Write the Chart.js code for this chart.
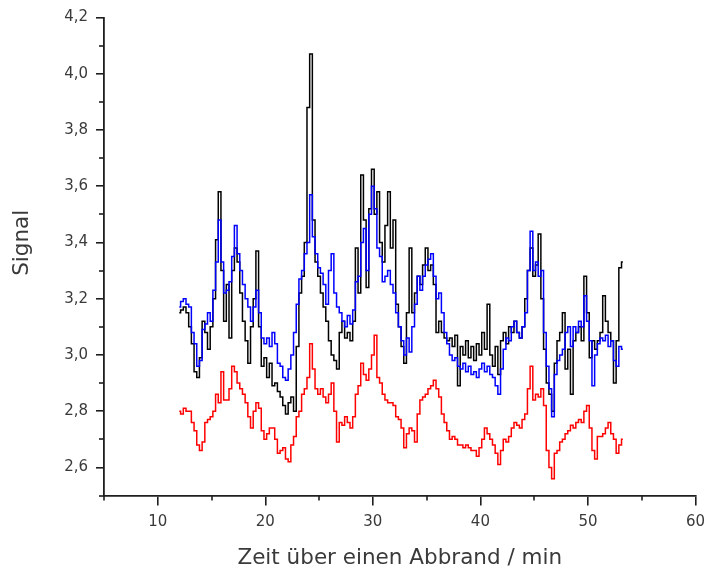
<!DOCTYPE html>
<html>
<head>
<meta charset="utf-8">
<script src="https://cdn.jsdelivr.net/npm/chart.js@4/dist/chart.umd.min.js"></script>
<style>
  html, body { margin: 0; padding: 0; background: #fff; }
  #wrap { width: 713px; height: 570px; }
</style>
</head>
<body>
<div id="wrap"><canvas id="chartCanvas" width="713" height="570"></canvas></div>
<script>
// Zeitachse (min), Abtastung 0,25 min
const zeit = [
  12.00, 12.25, 12.50, 12.75, 13.00, 13.25, 13.50, 13.75,
  14.00, 14.25, 14.50, 14.75, 15.00, 15.25, 15.50, 15.75,
  16.00, 16.25, 16.50, 16.75, 17.00, 17.25, 17.50, 17.75,
  18.00, 18.25, 18.50, 18.75, 19.00, 19.25, 19.50, 19.75,
  20.00, 20.25, 20.50, 20.75, 21.00, 21.25, 21.50, 21.75,
  22.00, 22.25, 22.50, 22.75, 23.00, 23.25, 23.50, 23.75,
  24.00, 24.25, 24.50, 24.75, 25.00, 25.25, 25.50, 25.75,
  26.00, 26.25, 26.50, 26.75, 27.00, 27.25, 27.50, 27.75,
  28.00, 28.25, 28.50, 28.75, 29.00, 29.25, 29.50, 29.75,
  30.00, 30.25, 30.50, 30.75, 31.00, 31.25, 31.50, 31.75,
  32.00, 32.25, 32.50, 32.75, 33.00, 33.25, 33.50, 33.75,
  34.00, 34.25, 34.50, 34.75, 35.00, 35.25, 35.50, 35.75,
  36.00, 36.25, 36.50, 36.75, 37.00, 37.25, 37.50, 37.75,
  38.00, 38.25, 38.50, 38.75, 39.00, 39.25, 39.50, 39.75,
  40.00, 40.25, 40.50, 40.75, 41.00, 41.25, 41.50, 41.75,
  42.00, 42.25, 42.50, 42.75, 43.00, 43.25, 43.50, 43.75,
  44.00, 44.25, 44.50, 44.75, 45.00, 45.25, 45.50, 45.75,
  46.00, 46.25, 46.50, 46.75, 47.00, 47.25, 47.50, 47.75,
  48.00, 48.25, 48.50, 48.75, 49.00, 49.25, 49.50, 49.75,
  50.00, 50.25, 50.50, 50.75, 51.00, 51.25, 51.50, 51.75,
  52.00, 52.25, 52.50, 52.75, 53.00, 53.25
];

const signalSchwarz = [
  3.15, 3.16, 3.17, 3.15, 3.10, 3.04, 2.94, 2.92,
  2.99, 3.12, 3.08, 3.02, 3.10, 3.20, 3.41, 3.58,
  3.30, 3.12, 3.25, 3.06, 3.30, 3.38, 3.33, 3.22,
  3.12, 3.05, 2.97, 3.10, 3.20, 3.37, 3.10, 2.96,
  2.99, 2.92, 2.97, 2.89, 2.90, 2.87, 2.85, 2.82,
  2.79, 2.83, 2.85, 2.80, 3.03, 3.22, 3.28, 3.40,
  3.88, 4.07, 3.48, 3.33, 3.28, 3.22, 3.17, 3.12,
  3.05, 3.00, 2.98, 2.95, 3.08, 3.12, 3.06, 3.08,
  3.05, 3.12, 3.38, 3.22, 3.64, 3.48, 3.24, 3.52,
  3.66, 3.50, 3.58, 3.40, 3.33, 3.46, 3.58, 3.38,
  3.48, 3.18, 3.10, 3.03, 2.97, 3.15, 3.38, 3.15,
  3.22, 3.28, 3.25, 3.32, 3.38, 3.30, 3.32, 3.25,
  3.08, 3.12, 3.08, 3.06, 3.05, 3.06, 3.03, 3.07,
  2.89, 3.03, 3.00, 3.05, 2.99, 3.03, 2.98, 3.04,
  3.00, 3.08, 3.02, 3.18, 3.00, 2.96, 3.03, 2.93,
  3.05, 3.08, 3.04, 3.10, 3.08, 3.12, 3.08, 3.06,
  3.10, 3.20, 3.30, 3.38, 3.28, 3.32, 3.43, 3.20,
  3.02, 2.90, 2.86, 2.80, 2.97, 3.05, 3.08, 3.15,
  2.95, 3.02, 2.86, 3.05, 3.08, 3.10, 3.05, 3.28,
  3.15, 2.99, 3.05, 3.02, 3.05, 3.08, 3.21, 3.12,
  3.08, 3.05, 2.90, 3.05, 3.31, 3.33
];

const signalBlau = [
  3.17, 3.19, 3.20, 3.18, 3.17, 3.08, 3.04, 2.96,
  2.98, 3.09, 3.11, 3.15, 3.12, 3.23, 3.33, 3.48,
  3.33, 3.22, 3.23, 3.26, 3.35, 3.46, 3.36, 3.30,
  3.25, 3.20, 3.17, 3.12, 3.17, 3.23, 3.15, 3.06,
  3.04, 3.06, 3.03, 3.08, 3.04, 2.97, 2.96, 2.92,
  2.91, 2.95, 3.00, 3.08, 3.18, 3.27, 3.30, 3.36,
  3.40, 3.57, 3.42, 3.36, 3.31, 3.29, 3.25, 3.18,
  3.30, 3.36, 3.22, 3.17, 3.15, 3.12, 3.10, 3.14,
  3.11, 3.16, 3.26, 3.28, 3.40, 3.45, 3.30, 3.50,
  3.60, 3.52, 3.38, 3.35, 3.26, 3.28, 3.30, 3.25,
  3.22, 3.15, 3.10, 3.05, 3.00, 3.06, 3.01, 3.10,
  3.18, 3.28, 3.23, 3.28, 3.32, 3.34, 3.36, 3.28,
  3.20, 3.22, 3.15, 3.08, 3.04, 3.00, 2.98, 2.99,
  2.96, 2.95, 2.97, 2.94, 2.96, 2.93, 2.94, 2.92,
  2.95, 2.97, 2.94, 2.96, 2.93, 2.92, 2.89, 2.86,
  2.95, 3.02, 3.06, 3.05, 3.10, 3.12, 3.08, 3.06,
  3.10, 3.15, 3.30, 3.44, 3.30, 3.33, 3.28, 3.30,
  3.08, 2.96, 2.88, 2.78, 2.93, 2.98, 3.00, 3.02,
  3.08, 3.10, 3.03, 3.10, 3.08, 3.12, 3.10, 3.21,
  3.12, 3.05, 2.89, 3.00, 3.04, 3.06, 3.05, 3.07,
  3.03, 3.05, 2.98, 2.96, 3.03, 3.02
];

const signalRot = [
  2.80, 2.79, 2.81, 2.80, 2.80, 2.76, 2.73, 2.68,
  2.66, 2.69, 2.76, 2.77, 2.78, 2.80, 2.86, 2.83,
  2.94, 2.84, 2.84, 2.88, 2.96, 2.94, 2.90, 2.88,
  2.86, 2.83, 2.78, 2.74, 2.80, 2.83, 2.81, 2.73,
  2.70, 2.72, 2.74, 2.74, 2.70, 2.65, 2.66, 2.67,
  2.63, 2.62, 2.68, 2.71, 2.78, 2.80, 2.86, 2.88,
  2.92, 3.04, 2.95, 2.88, 2.86, 2.88, 2.85, 2.83,
  2.86, 2.90, 2.80, 2.69, 2.76, 2.75, 2.78, 2.76,
  2.74, 2.78, 2.86, 2.89, 2.97, 2.93, 2.91, 2.95,
  3.00, 3.07, 2.92, 2.90, 2.86, 2.84, 2.83, 2.83,
  2.82, 2.78, 2.77, 2.74, 2.67, 2.72, 2.74, 2.73,
  2.69, 2.79, 2.84, 2.85, 2.86, 2.88, 2.89, 2.91,
  2.88, 2.85, 2.79, 2.76, 2.73, 2.70, 2.71, 2.70,
  2.68, 2.68, 2.67, 2.68, 2.67, 2.66, 2.66, 2.64,
  2.67, 2.70, 2.74, 2.72, 2.70, 2.68, 2.65, 2.61,
  2.66, 2.70, 2.69, 2.71, 2.74, 2.76, 2.75, 2.74,
  2.77, 2.79, 2.88, 2.96, 2.84, 2.86, 2.85, 2.88,
  2.82, 2.66, 2.60, 2.56, 2.65, 2.66, 2.69, 2.70,
  2.72, 2.73, 2.75, 2.74, 2.76, 2.77, 2.76, 2.80,
  2.82, 2.74, 2.66, 2.63, 2.71, 2.71, 2.72, 2.74,
  2.76, 2.72, 2.70, 2.65, 2.68, 2.70
];

// Achsen
const xTicks = [10, 20, 30, 40, 50, 60];
const xMinorTicks = [5, 15, 25, 35, 45, 55];
const yTicks = [2.6, 2.8, 3.0, 3.2, 3.4, 3.6, 3.8, 4.0, 4.2];
const yTickLabels = ["2,6", "2,8", "3,0", "3,2", "3,4", "3,6", "3,8", "4,0", "4,2"];
const yMinorTicks = [2.5, 2.7, 2.9, 3.1, 3.3, 3.5, 3.7, 3.9, 4.1];

const achsenFarbe = "#1e1e1e";
const textFarbe = "#3a3a3a";

const toPoints = (werte) => zeit.map((t, i) => ({ x: t, y: werte[i] }));

// kleine Zwischenstriche an den Achsen
const minorTicksPlugin = {
  id: "minorTicks",
  afterDraw(chart) {
    const { ctx, scales } = chart;
    const xs = scales.x;
    const ys = scales.y;
    ctx.save();
    ctx.strokeStyle = achsenFarbe;
    ctx.lineWidth = 1.6;
    xMinorTicks.forEach((v) => {
      const px = Math.round(xs.getPixelForValue(v));
      ctx.beginPath();
      ctx.moveTo(px, ys.bottom);
      ctx.lineTo(px, ys.bottom + 5);
      ctx.stroke();
    });
    yMinorTicks.forEach((v) => {
      const py = Math.round(ys.getPixelForValue(v));
      ctx.beginPath();
      ctx.moveTo(xs.left - 5, py);
      ctx.lineTo(xs.left, py);
      ctx.stroke();
    });
    ctx.restore();
  },
};

new Chart(document.getElementById("chartCanvas"), {
  type: "line",
  data: {
    datasets: [
      { label: "blau", data: toPoints(signalBlau), borderColor: "#0000ff" },
      { label: "schwarz", data: toPoints(signalSchwarz), borderColor: "#000000" },
      { label: "rot", data: toPoints(signalRot), borderColor: "#ff0000" },
    ],
  },
  options: {
    responsive: false,
    animation: false,
    layout: { padding: { left: 0, right: 13, top: 17.5, bottom: 0 } },
    elements: {
      line: { borderWidth: 1.5, tension: 0, fill: false, stepped: "middle" },
      point: { radius: 0, hoverRadius: 0 },
    },
    plugins: { legend: { display: false }, tooltip: { enabled: false } },
    scales: {
      x: {
        type: "linear",
        min: 5,
        max: 60,
        afterBuildTicks: (scale) => {
          scale.ticks = xTicks.map((v) => ({ value: v }));
        },
        afterFit: (scale) => {
          scale.height = 74.5;
        },
        grid: {
          drawOnChartArea: false,
          drawTicks: true,
          tickLength: 10,
          color: achsenFarbe,
          lineWidth: 1.6,
        },
        border: { display: true, color: achsenFarbe, width: 1.8 },
        ticks: {
          padding: 8,
          color: textFarbe,
          font: { family: "DejaVu Sans", size: 15 },
          maxRotation: 0,
        },
        title: {
          display: true,
          text: "Zeit über einen Abbrand / min",
          color: textFarbe,
          font: { family: "DejaVu Sans", size: 21.5, lineHeight: 1.1 },
          padding: { top: 0, bottom: 0 },
        },
      },
      y: {
        type: "linear",
        min: 2.5,
        max: 4.2,
        afterBuildTicks: (scale) => {
          scale.ticks = yTicks.map((v) => ({ value: v }));
        },
        afterFit: (scale) => {
          scale.width = 104;
        },
        grid: {
          drawOnChartArea: false,
          drawTicks: true,
          tickLength: 8,
          color: achsenFarbe,
          lineWidth: 1.6,
        },
        border: { display: true, color: achsenFarbe, width: 1.8 },
        ticks: {
          padding: 8,
          color: textFarbe,
          font: { family: "DejaVu Sans", size: 15 },
          callback: (value, index) => yTickLabels[index],
        },
        title: {
          display: true,
          text: "    Signal",
          color: textFarbe,
          font: { family: "DejaVu Sans", size: 21.5, lineHeight: 1.1 },
          padding: { top: 10.8, bottom: 0 },
        },
      },
    },
  },
  plugins: [minorTicksPlugin],
});
</script>
</body>
</html>
